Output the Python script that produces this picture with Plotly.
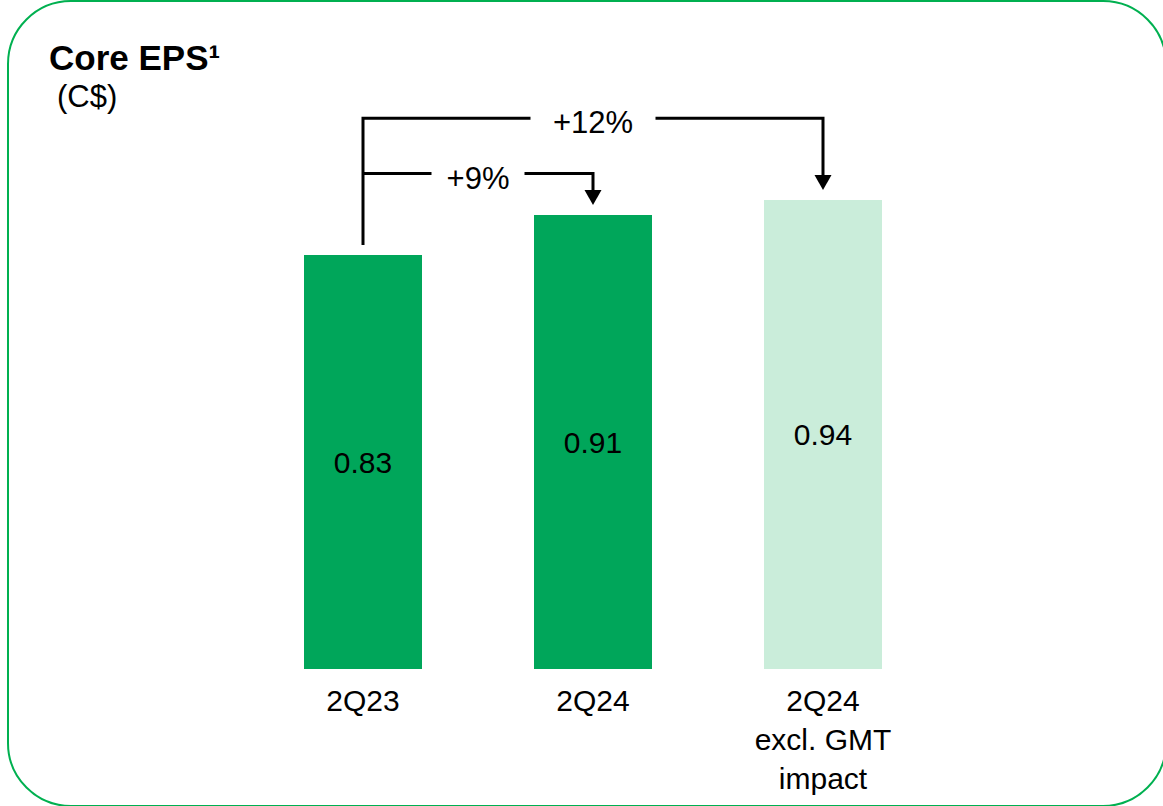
import plotly.graph_objects as go

# ---- data -------------------------------------------------------------
categories = ["2Q23", "2Q24", "2Q24<br>excl. GMT<br>impact"]
eps_values = [0.83, 0.91, 0.94]
bar_colors = ["#00A65A", "#00A65A", "#CAEDDA"]
growth_labels = ["+9%", "+12%"]          # 2Q23 -> 2Q24, 2Q23 -> 2Q24 excl. GMT
growth_targets = [1, 2]                  # index of the bar each arrow points at

# ---- layout constants -------------------------------------------------
W, H = 1163, 806
FONT = "Liberation Sans, Arial, sans-serif"
PX_PER_UNIT = 498.9          # vertical scale of the bars
Y_BASE_PX = 669              # pixel row of the value axis zero
Y_TOP_PX = 40
X_LEFT_PX, X_RIGHT_PX = 248, 938

GAP = 0.02                   # space between bracket line and a bar top
LEVEL_12 = 1.104             # height of the outer (+12%) bracket
LEVEL_9 = 0.993              # height of the inner (+9%) bracket
ARROW_H_PX, ARROW_W_PX = 15, 17

fig = go.Figure()

x_idx = list(range(len(categories)))

fig.add_trace(go.Bar(
    x=x_idx,
    y=eps_values,
    width=0.513,
    marker=dict(color=bar_colors, line=dict(width=0)),
    text=[f"{v:.2f}" for v in eps_values],
    textposition="inside",
    insidetextanchor="middle",
    textangle=0,
    textfont=dict(family=FONT, size=30, color="black"),
    hoverinfo="skip",
    showlegend=False,
))

# ---- growth brackets --------------------------------------------------
start_y = eps_values[0] + GAP
arrow_off = ARROW_H_PX / PX_PER_UNIT * 0.7
levels = [LEVEL_9, LEVEL_12]
shapes = []
annotations = []

for label, tgt, lvl in zip(growth_labels, growth_targets, levels):
    tip = eps_values[tgt] + GAP
    fig.add_trace(go.Scatter(
        x=[0, 0, tgt, tgt],
        y=[start_y if tgt == 2 else lvl, lvl, lvl, tip + arrow_off],
        mode="lines",
        line=dict(color="black", width=3),
        hoverinfo="skip",
        showlegend=False,
    ))
    shapes.append(dict(
        type="path", xref="x", yref="y",
        xsizemode="pixel", ysizemode="pixel",
        xanchor=tgt, yanchor=tip,
        path=f"M{-ARROW_W_PX/2},{ARROW_H_PX} L{ARROW_W_PX/2},{ARROW_H_PX} L0,0 Z",
        fillcolor="black", line=dict(width=0),
    ))
    annotations.append(dict(
        x=tgt / 2, y=lvl, xref="x", yref="y",
        text=label, showarrow=False,
        font=dict(family=FONT, size=31, color="black"),
        bgcolor="white",
        width=124 if tgt == 2 else 92, height=30,
        borderpad=0, yshift=-4,
        xanchor="center", yanchor="middle",
    ))

# ---- rounded frame ----------------------------------------------------
def px(x, y):
    return f"{x / W:.5f},{1 - y / H:.5f}"

L, T, R, B, r = 8, 1, 1166, 806, 63
k = 0.5523 * r
frame = (
    f"M{px(L, T + r)} C{px(L, T + r - k)} {px(L + r - k, T)} {px(L + r, T)} "
    f"L{px(R - r, T)} C{px(R - r + k, T)} {px(R, T + r - k)} {px(R, T + r)} "
    f"L{px(R, B - r)} C{px(R, B - r + k)} {px(R - r + k, B)} {px(R - r, B)} "
    f"L{px(L + r, B)} C{px(L + r - k, B)} {px(L, B - r + k)} {px(L, B - r)} Z"
)
shapes.append(dict(type="path", xref="paper", yref="paper", path=frame,
                   line=dict(color="#00B050", width=2), fillcolor="rgba(0,0,0,0)",
                   layer="below"))

# ---- titles -----------------------------------------------------------
annotations.append(dict(
    x=47 / W, y=1 - 57 / H, xref="paper", yref="paper",
    text="<b>Core EPS¹</b>", showarrow=False,
    xanchor="left", yanchor="middle",
    font=dict(family=FONT, size=35, color="black"),
))
annotations.append(dict(
    x=55 / W, y=1 - 97 / H, xref="paper", yref="paper",
    text="(C$)", showarrow=False,
    xanchor="left", yanchor="middle",
    font=dict(family=FONT, size=31, color="black"),
))

y_top_val = (Y_BASE_PX - Y_TOP_PX) / PX_PER_UNIT

fig.update_layout(
    width=W, height=H,
    margin=dict(l=0, r=0, t=0, b=0, pad=0),
    paper_bgcolor="white", plot_bgcolor="white",
    shapes=shapes,
    annotations=annotations,
    xaxis=dict(
        domain=[X_LEFT_PX / W, X_RIGHT_PX / W],
        range=[-0.5, 2.5],
        tickvals=x_idx, ticktext=categories,
        tickfont=dict(family=FONT, size=30, color="black"),
        ticks="", ticklabelstandoff=11,
        showline=False, showgrid=False, zeroline=False,
        fixedrange=True,
    ),
    yaxis=dict(
        domain=[1 - Y_BASE_PX / H, 1 - Y_TOP_PX / H],
        range=[0, y_top_val],
        visible=False, fixedrange=True,
    ),
    bargap=0,
)

fig.write_html("out.html")
